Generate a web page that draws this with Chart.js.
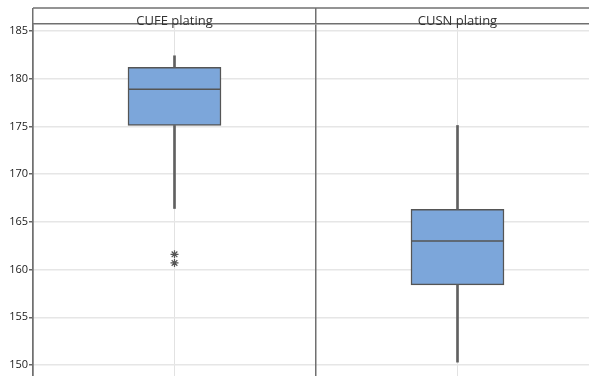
<!DOCTYPE html>
<html>
<head>
<meta charset="utf-8">
<script src="https://cdn.jsdelivr.net/npm/chart.js@4/dist/chart.umd.min.js"></script>
<style>
  html, body { margin: 0; padding: 0; background: #fff; overflow: hidden; }
  #wrap { width: 610px; height: 376px; overflow: hidden; }
</style>
</head>
<body>
<div id="wrap"><canvas id="c" width="610" height="384"></canvas></div>
<script>
// ---- data ----
const categories  = ['CUFE plating', 'CUSN plating'];
const whiskerLow  = [166.4, 150.3];
const q1          = [175.1, 158.4];
const median      = [178.9, 163.0];
const q3          = [181.2, 166.3];
const whiskerHigh = [182.4, 175.1];
const outlierCat  = ['CUFE plating', 'CUFE plating'];
const outlierVal  = [161.6, 160.7];
const yMin = 148.85, yMax = 185.73, yStep = 5;

const medianPlugin = {
  id: 'medianLine',
  afterDatasetsDraw(chart) {
    const meta = chart.getDatasetMeta(2);
    const ys = chart.scales.y;
    const ctx = chart.ctx;
    ctx.save();
    ctx.strokeStyle = '#555';
    ctx.lineWidth = 1.5;
    meta.data.forEach((bar, i) => {
      const p = bar.getProps(['x', 'width'], true);
      const py = ys.getPixelForValue(median[i]);
      ctx.beginPath();
      ctx.moveTo(p.x - p.width / 2, py);
      ctx.lineTo(p.x + p.width / 2, py);
      ctx.stroke();
    });
    ctx.restore();
  }
};

const stripPlugin = {
  id: 'stripTop',
  beforeDatasetsDraw(chart) {
    const xs = chart.scales.x;
    const ctx = chart.ctx;
    ctx.save();
    ctx.strokeStyle = '#707070';
    ctx.lineWidth = 1.5;
    ctx.beginPath();
    ctx.moveTo(chart.chartArea.left, xs.top);
    ctx.lineTo(chart.chartArea.right, xs.top);
    ctx.stroke();
    ctx.restore();
  }
};

new Chart(document.getElementById('c'), {
  type: 'bar',
  data: {
    labels: categories,
    datasets: [
      { data: categories.map((c, i) => [whiskerLow[i], q1[i]]),
        backgroundColor: '#606060', barThickness: 2, grouped: false },
      { data: categories.map((c, i) => [q3[i], whiskerHigh[i]]),
        backgroundColor: '#606060', barThickness: 2, grouped: false },
      { data: categories.map((c, i) => [q1[i], q3[i]]),
        backgroundColor: '#7ca6da', borderColor: '#555', borderWidth: 1.5,
        borderSkipped: false, barThickness: 93, grouped: false },
      { type: 'line', showLine: false,
        data: outlierCat.map((c, i) => ({ x: c, y: outlierVal[i] })),
        pointStyle: 'star', pointRadius: 4, borderColor: '#555',
        backgroundColor: '#555', borderWidth: 1.2 }
    ]
  },
  options: {
    responsive: false,
    animation: false,
    devicePixelRatio: 1,
    layout: { padding: { top: 8, right: 11, bottom: 8, left: 0 } },
    plugins: { legend: { display: false }, tooltip: { enabled: false } },
    scales: {
      x: {
        position: 'top',
        offset: true,
        grid: { offset: true, color: '#707070', lineWidth: 1.5, tickLength: 16, z: -1 },
        border: { display: true, color: '#707070', width: 1.5 },
        ticks: { mirror: true, padding: -11, color: '#333', maxRotation: 0,
                 font: { family: 'Open Sans', size: 13 } },
        afterFit(s) { s.height = 16; }
      },
      x2: {
        type: 'category',
        position: 'bottom',
        offset: true,
        grid: { offset: false, color: '#e2e2e2', lineWidth: 1, drawTicks: false, z: -2 },
        border: { display: false },
        ticks: { display: false },
        afterFit(s) { s.height = 0; }
      },
      y: {
        min: yMin, max: yMax,
        ticks: { stepSize: yStep, includeBounds: false, padding: 1, color: '#222',
                 font: { family: 'Open Sans', size: 11 } },
        grid: { color: '#e6e6e6', lineWidth: 1.5, tickLength: 4, tickColor: '#666', z: -2 },
        border: { display: true, color: '#707070', width: 1.5 },
        afterFit(s) { s.width = 33; }
      }
    }
  },
  plugins: [medianPlugin, stripPlugin]
});
</script>
</body>
</html>
